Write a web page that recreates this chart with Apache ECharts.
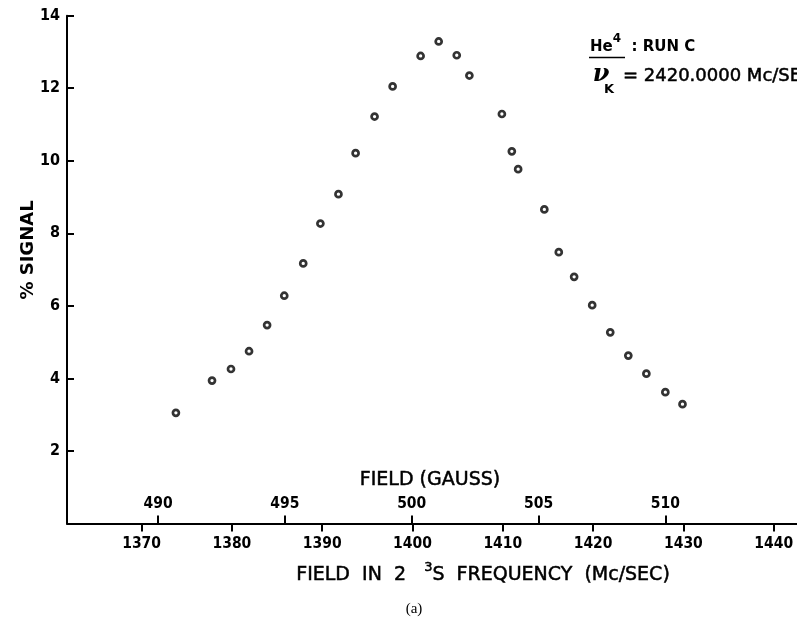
<!DOCTYPE html>
<html>
<head>
<meta charset="utf-8">
<title>He4 Run C – % signal vs field</title>
<script src="https://cdn.jsdelivr.net/npm/echarts@6/dist/echarts.min.js"></script>
<style>
  html, body { margin: 0; padding: 0; background: #fff; }
  #chart { width: 797px; height: 618px; }
</style>
</head>
<body>
<div id="chart"></div>
<script>
// Resonance points: 2 3S frequency (Mc/sec) and percent signal
const freq = [1373.8, 1377.8, 1379.9, 1381.9, 1383.9, 1385.8, 1387.9, 1389.8, 1391.8, 1393.7,
              1395.8, 1397.8, 1400.9, 1402.9, 1404.9, 1406.3, 1409.9, 1411.0, 1411.7, 1414.6,
              1416.2, 1417.9, 1419.9, 1421.9, 1423.9, 1425.9, 1428.0, 1429.9];
const signal = [3.05, 3.94, 4.26, 4.75, 5.47, 6.28, 7.17, 8.27, 9.08, 10.21,
                11.22, 12.05, 12.89, 13.29, 12.91, 12.35, 11.29, 10.26, 9.77, 8.66,
                7.48, 6.80, 6.02, 5.27, 4.63, 4.13, 3.62, 3.29];

// Tick labels
const freqTicks = [1370, 1380, 1390, 1400, 1410, 1420, 1430, 1440];
const gaussTicks = [490, 495, 500, 505, 510];
const signalTicks = [2, 4, 6, 8, 10, 12, 14];

// Axis extents (frequency scale and the matching field scale in gauss)
const freqRange = [1361.74, 1442.58];
const gaussRange = [486.41, 515.19];
const signalRange = [0, 14];

const INK = '#000000';
const LETTER = "'DejaVu Sans', sans-serif";
const COND = "'DejaVu Sans Condensed', 'DejaVu Sans', sans-serif";
const plain = v => String(v);

const chart = echarts.init(document.getElementById('chart'), null, { renderer: 'canvas' });

chart.setOption({
  backgroundColor: '#ffffff',
  animation: false,
  grid: { left: 67, right: 0, top: 15.7, bottom: 94.5, containLabel: false },
  xAxis: [
    {
      type: 'value',
      position: 'bottom',
      min: freqRange[0],
      max: freqRange[1],
      axisLine: { show: true, onZero: false, lineStyle: { color: INK, width: 2 } },
      axisTick: { show: true, inside: false, length: 8, customValues: freqTicks,
                  lineStyle: { color: INK, width: 2 } },
      axisLabel: { show: true, customValues: freqTicks, formatter: plain, margin: 12,
                   color: INK, fontSize: 15.5, fontWeight: 'bold', fontFamily: COND },
      splitLine: { show: false }
    },
    {
      type: 'value',
      position: 'bottom',
      offset: 0,
      min: gaussRange[0],
      max: gaussRange[1],
      axisLine: { show: false, onZero: false },
      axisTick: { show: true, inside: true, length: 8, customValues: gaussTicks,
                  lineStyle: { color: INK, width: 2 } },
      axisLabel: { show: true, inside: true, customValues: gaussTicks, formatter: plain, margin: 12,
                   color: INK, fontSize: 15.5, fontWeight: 'bold', fontFamily: COND },
      splitLine: { show: false }
    }
  ],
  yAxis: {
    type: 'value',
    min: signalRange[0],
    max: signalRange[1],
    interval: 2,
    axisLine: { show: true, lineStyle: { color: INK, width: 2 } },
    axisTick: { show: true, inside: true, length: 7, customValues: signalTicks,
                lineStyle: { color: INK, width: 2 } },
    axisLabel: { show: true, customValues: signalTicks, formatter: plain, margin: 7, color: INK,
                 fontSize: 16, fontWeight: 'bold',
                 fontFamily: "'Liberation Sans Narrow', 'DejaVu Sans Condensed', sans-serif" },
    splitLine: { show: false }
  },
  series: [
    {
      type: 'scatter',
      xAxisIndex: 0,
      yAxisIndex: 0,
      data: freq.map((f, i) => [f, signal[i]]),
      symbol: 'circle',
      symbolSize: 6,
      itemStyle: { color: '#ffffff', borderColor: INK, borderWidth: 2.7 },
      emphasis: { disabled: true }
    }
  ],
  graphic: [
    // y axis title
    { type: 'text', x: 28, y: 250, rotation: Math.PI / 2,
      style: { text: '% SIGNAL', font: "bold 18px " + LETTER, fill: INK,
               align: 'center', verticalAlign: 'middle' } },
    // upper field scale title
    { type: 'text', x: 430, y: 480,
      style: { text: 'FIELD (GAUSS)', font: "19px " + LETTER, fill: INK,
               stroke: INK, lineWidth: 0.5,
               align: 'center', verticalAlign: 'middle' } },
    // lower frequency scale title with superscript
    { type: 'text', x: 483, y: 575,
      style: {
        text: '{m|FIELD  IN  2   }{s|3}{m|S  FREQUENCY  (Mc/SEC)}',
        align: 'center', verticalAlign: 'middle',
        rich: {
          m: { fontSize: 19, fontFamily: LETTER, fill: INK, stroke: INK, lineWidth: 0.5, lineHeight: 28 },
          s: { fontSize: 13, fontFamily: LETTER, fill: INK, stroke: INK, lineWidth: 0.5, lineHeight: 13, verticalAlign: 'top' }
        }
      } },
    // run label
    { type: 'text', x: 590, y: 46.7,
      style: {
        text: '{m|He}{s|4}{m|  : RUN C}',
        align: 'left', verticalAlign: 'middle',
        rich: {
          m: { fontSize: 15, fontWeight: 'bold', fontFamily: LETTER, fill: INK, lineHeight: 28 },
          s: { fontSize: 12, fontWeight: 'bold', fontFamily: LETTER, fill: INK, lineHeight: 12, verticalAlign: 'top' }
        }
      } },
    { type: 'line', shape: { x1: 589, y1: 57.5, x2: 625, y2: 57.5 },
      style: { stroke: INK, lineWidth: 1.6 } },
    // klystron frequency
    { type: 'text', x: 601, y: 75,
      style: { text: 'ν', font: "italic bold 24px 'DejaVu Serif', serif", fill: INK,
               align: 'center', verticalAlign: 'middle' } },
    { type: 'text', x: 609, y: 90,
      style: { text: 'K', font: "bold 13px " + LETTER, fill: INK,
               align: 'center', verticalAlign: 'middle' } },
    { type: 'text', x: 623, y: 76,
      style: { text: '= 2420.0000 Mc/SEC', font: "18px " + LETTER, fill: INK,
               stroke: INK, lineWidth: 0.5,
               align: 'left', verticalAlign: 'middle' } },
    // panel caption
    { type: 'text', x: 414, y: 609,
      style: { text: '(a)', font: "15px 'Liberation Serif', serif", fill: INK,
               align: 'center', verticalAlign: 'middle' } }
  ]
});
</script>
</body>
</html>
